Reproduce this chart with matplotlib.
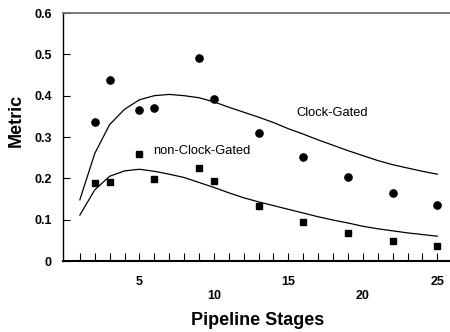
import matplotlib
matplotlib.use('Agg')
import matplotlib.pyplot as plt

plt.rcParams['font.family'] = ['Liberation Sans', 'DejaVu Sans']

# measured points
stages = [2, 3, 5, 6, 9, 10, 13, 16, 19, 22, 25]
cg_pts = [0.336, 0.438, 0.365, 0.370, 0.491, 0.392, 0.310, 0.252, 0.203, 0.164, 0.136]
ncg_pts = [0.189, 0.191, 0.260, 0.198, 0.225, 0.194, 0.134, 0.094, 0.068, 0.048, 0.036]

# model curves
curve_x = list(range(1, 26))
cg_curve = [0.148, 0.26, 0.33, 0.367, 0.39, 0.40, 0.403, 0.40, 0.395, 0.385,
            0.372, 0.36, 0.348, 0.335, 0.32, 0.307, 0.293, 0.28, 0.267, 0.255,
            0.243, 0.233, 0.225, 0.217, 0.21]
ncg_curve = [0.111, 0.172, 0.205, 0.218, 0.222, 0.217, 0.21, 0.202, 0.19, 0.178,
             0.165, 0.153, 0.143, 0.134, 0.125, 0.116, 0.107, 0.099, 0.092, 0.084,
             0.078, 0.073, 0.068, 0.064, 0.06]

xticks = [5, 10, 15, 20, 25]
xticklabels = ['5', '\n10', '15', '\n20', '25']
yticks = [0, 0.1, 0.2, 0.3, 0.4, 0.5, 0.6]
yticklabels = ['0', '0.1', '0.2', '0.3', '0.4', '0.5', '0.6']

fig = plt.figure(figsize=(4.5, 3.32), dpi=100)
ax = fig.add_axes([63/450, 1-261/332, 1-63/450, 248/332])

ax.plot(curve_x, cg_curve, color='black', lw=0.9)
ax.plot(curve_x, ncg_curve, color='black', lw=0.9)
ax.plot(stages, cg_pts, 'o', color='black', ms=5.2)
ax.plot(stages, ncg_pts, 's', color='black', ms=5.0)

ax.text(15.55, 0.358, 'Clock-Gated', fontsize=9.3, va='center', ha='left')
ax.text(5.95, 0.266, 'non-Clock-Gated', fontsize=9.3, va='center', ha='left')

ax.set_xlim(-0.13, 25.85)
ax.set_ylim(0, 0.6)

ax.set_xticks(xticks)
ax.set_xticklabels(xticklabels, fontsize=9, fontweight='bold', linespacing=1.25)
ax.set_xticks(curve_x, minor=True)
ax.set_yticks(yticks)
ax.set_yticklabels(yticklabels, fontsize=9, fontweight='bold')

ax.tick_params(axis='x', which='both', direction='in', length=6, width=0.8, pad=10.5)
ax.tick_params(axis='y', which='both', direction='in', length=5, width=0.8, pad=8)

ax.spines['right'].set_visible(False)
ax.spines['top'].set_color('#707070')
ax.spines['top'].set_linewidth(1.3)
ax.spines['bottom'].set_linewidth(1.5)
ax.spines['left'].set_linewidth(1.0)

ax.set_xlabel('Pipeline Stages', fontsize=13, fontweight='bold')
ax.set_ylabel('Metric', fontsize=13, fontweight='bold')
ax.xaxis.set_label_coords(0.504, -0.206)
ax.yaxis.set_label_coords(-0.098, 0.565)

fig.savefig('out.png', dpi=100)
